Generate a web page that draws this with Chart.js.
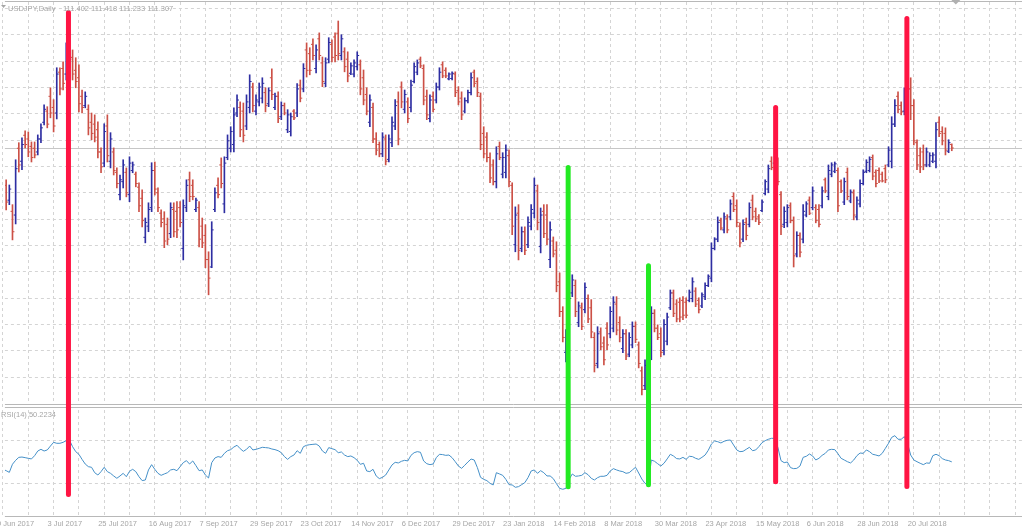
<!DOCTYPE html>
<html>
<head>
<meta charset="utf-8">
<title>USDJPY,Daily</title>
<script src="https://cdn.jsdelivr.net/npm/chart.js@4.4.1/dist/chart.umd.min.js"></script>
<style>
  html, body { margin: 0; padding: 0; background: #ffffff; }
  #wrap { position: relative; width: 1024px; height: 532px; overflow: hidden; }
</style>
</head>
<body>
<div id="wrap"><canvas id="grafico" width="1024" height="532"></canvas></div>
<script>
// Daily bars, 9 Jun 2017 -> 8 Aug 2018 (one entry per trading day)
const openPrices = [
  110.50, 110.30, 109.90, 109.60, 109.50, 111.30, 110.95, 111.65, 111.55, 111.35,
  111.30, 111.20, 111.55, 112.00, 112.30, 112.70, 112.40, 112.25, 113.35, 113.45,
  113.30, 114.00, 113.75, 113.40, 113.20, 112.70, 112.45, 112.35, 112.00, 111.95,
  111.80, 111.20, 110.90, 111.90, 110.95, 111.20, 110.65, 110.05, 110.40, 110.65,
  110.05, 110.70, 110.60, 110.25, 109.95, 108.90, 109.20, 109.70, 110.70, 110.10,
  109.55, 109.40, 109.25, 109.00, 109.65, 109.60, 109.70, 108.60, 109.70, 110.45,
  110.30, 109.65, 109.70, 109.20, 108.95, 108.30, 108.10, 109.65, 110.30, 110.85,
  109.80, 111.05, 111.30, 111.40, 112.25, 112.40, 112.30, 111.90, 112.40, 112.95,
  112.30, 112.55, 112.65, 112.80, 112.50, 113.20, 112.40, 112.70, 112.15, 112.45,
  111.80, 111.75, 112.30, 112.25, 113.00, 112.90, 113.95, 113.85, 114.10, 113.45,
  114.25, 113.60, 113.05, 113.70, 114.10, 114.30, 114.40, 113.80, 113.90, 113.70,
  113.32, 113.30, 113.50, 113.55, 113.20, 112.75, 112.00, 112.40, 111.55, 111.40,
  111.15, 111.55, 111.00, 111.45, 111.90, 112.55, 112.95, 112.35, 112.55, 112.40,
  113.10, 113.35, 113.70, 113.45, 112.70, 112.10, 112.70, 112.60, 112.95, 113.55,
  113.40, 113.17, 113.18, 113.30, 112.85, 112.65, 112.30, 112.58, 112.80, 113.35,
  113.10, 112.70, 111.70, 111.60, 111.05, 110.85, 110.40, 111.35, 110.60, 110.65,
  111.10, 110.30, 108.70, 109.55, 108.60, 109.05, 108.70, 109.20, 109.55, 110.15,
  108.65, 109.60, 109.50, 108.30, 108.80, 108.55, 107.70, 106.90, 105.80, 106.70,
  107.40, 107.60, 106.60, 107.00, 106.95, 107.25, 107.00, 106.20, 105.50, 106.35,
  106.05, 106.45, 106.30, 106.45, 107.10, 106.60, 105.90, 106.30, 105.75, 106.00,
  106.50, 106.00, 105.30, 104.90, 105.40, 105.90, 106.85, 106.45, 106.30, 105.85,
  106.10, 107.00, 107.40, 107.10, 107.15, 107.20, 107.15, 107.20, 107.25, 107.45,
  107.20, 107.05, 107.30, 107.60, 107.80, 108.60, 108.85, 109.35, 109.10, 109.40,
  109.45, 110.00, 109.75, 109.20, 108.85, 109.30, 109.25, 109.90, 109.60, 109.45,
  109.62, 110.08, 110.20, 110.95, 110.90, 111.00, 110.05, 109.25, 109.30, 109.75,
  109.35, 108.45, 108.95, 108.85, 109.50, 109.90, 109.70, 109.70, 109.65, 109.75,
  110.45, 110.00, 110.60, 110.68, 110.70, 110.40, 109.85, 110.65, 109.88, 110.10,
  109.45, 109.80, 110.35, 110.68, 110.70, 111.05, 110.65, 110.70, 110.60, 110.75,
  110.85, 110.95, 111.95, 112.70, 112.45, 112.30, 112.45, 112.90, 112.45, 111.45,
  111.10, 111.20, 110.85, 110.85, 110.95, 110.95, 112.00, 111.75, 111.70, 111.22,
  111.402
];
const highPrices = [
  110.72, 110.45, 110.31, 109.78, 110.99, 111.45, 111.58, 111.77, 111.74, 111.47,
  111.47, 111.66, 111.96, 112.47, 112.42, 112.93, 112.61, 113.47, 113.47, 113.63,
  114.14, 114.49, 113.95, 113.74, 113.55, 112.87, 112.82, 112.47, 112.25, 112.20,
  112.01, 111.31, 111.96, 112.20, 111.72, 111.31, 110.77, 110.58, 110.99, 110.77,
  111.07, 110.93, 110.66, 110.37, 110.18, 109.42, 109.83, 110.91, 110.93, 110.23,
  109.64, 109.59, 109.42, 109.83, 109.83, 109.86, 109.86, 109.91, 110.45, 110.66,
  110.45, 109.96, 109.86, 109.42, 109.24, 108.51, 109.32, 110.23, 110.50, 111.04,
  111.07, 111.66, 111.88, 112.39, 112.74, 112.55, 112.52, 112.74, 113.28, 113.06,
  112.74, 113.06, 113.20, 112.93, 112.93, 113.44, 112.79, 112.82, 112.55, 112.52,
  112.34, 112.25, 112.34, 113.04, 113.14, 113.58, 114.14, 114.01, 114.25, 114.09,
  114.41, 113.76, 113.74, 114.28, 114.22, 114.41, 114.73, 114.36, 114.01, 113.90,
  113.60, 113.68, 113.90, 113.68, 113.41, 112.93, 112.74, 112.52, 111.72, 111.47,
  111.72, 111.66, 111.66, 112.15, 112.61, 112.82, 113.09, 112.87, 112.66, 113.14,
  113.60, 113.68, 113.76, 113.55, 112.87, 112.74, 112.82, 113.06, 113.47, 113.63,
  113.47, 113.33, 113.36, 113.36, 112.96, 112.82, 112.66, 112.87, 113.33, 113.41,
  113.20, 112.79, 111.88, 111.72, 111.18, 110.99, 111.34, 111.47, 111.18, 111.39,
  111.26, 110.37, 109.72, 109.78, 109.18, 109.18, 109.45, 109.78, 110.50, 110.31,
  109.69, 109.78, 109.78, 109.32, 108.91, 108.78, 107.94, 107.03, 106.41, 107.40,
  107.89, 107.75, 107.16, 107.13, 107.67, 107.35, 107.22, 106.33, 106.49, 106.46,
  106.22, 106.60, 107.03, 107.30, 107.30, 106.76, 106.41, 106.41, 106.33, 106.62,
  106.62, 106.08, 105.41, 105.60, 106.14, 107.03, 106.95, 106.54, 106.46, 106.68,
  106.86, 107.48, 107.48, 107.22, 107.27, 107.30, 107.27, 107.48, 107.81, 107.54,
  107.27, 107.40, 107.67, 107.89, 108.75, 108.89, 109.45, 109.42, 109.56, 109.51,
  109.91, 110.10, 109.91, 109.29, 109.37, 109.42, 109.83, 110.04, 109.69, 109.51,
  109.91, 110.45, 110.85, 111.07, 111.45, 111.04, 110.13, 109.72, 109.78, 109.83,
  109.45, 109.05, 109.02, 109.78, 109.86, 109.99, 110.26, 109.78, 109.78, 110.26,
  110.50, 110.85, 110.91, 110.93, 110.77, 110.45, 110.50, 110.77, 110.18, 110.18,
  109.99, 110.45, 110.72, 110.99, 111.07, 111.12, 110.72, 110.77, 110.66, 110.85,
  111.34, 112.15, 112.61, 112.82, 112.55, 112.93, 113.01, 113.20, 112.61, 111.53,
  111.31, 111.39, 111.31, 111.18, 111.18, 111.99, 112.15, 111.88, 111.85, 111.53,
  111.418
];
const lowPrices = [
  109.91, 109.64, 109.78, 108.83, 109.26, 110.66, 110.72, 111.31, 111.07, 110.93,
  111.04, 111.12, 111.45, 111.93, 111.85, 112.12, 111.74, 112.09, 112.74, 112.87,
  113.14, 113.47, 113.14, 112.93, 112.28, 112.25, 112.39, 111.66, 111.53, 111.47,
  111.04, 110.64, 110.80, 110.93, 110.77, 110.58, 110.23, 109.91, 110.23, 109.99,
  109.86, 110.64, 110.26, 109.59, 109.18, 108.75, 109.05, 109.59, 110.04, 109.59,
  109.18, 108.62, 108.70, 108.89, 108.91, 108.89, 109.18, 108.29, 109.59, 109.86,
  109.91, 109.59, 108.64, 108.62, 108.08, 107.35, 108.08, 109.59, 109.96, 110.23,
  109.56, 110.99, 111.20, 111.20, 112.15, 111.61, 111.47, 111.80, 112.25, 112.28,
  112.20, 112.44, 112.52, 112.28, 112.42, 112.61, 112.34, 111.99, 112.07, 112.20,
  111.72, 111.63, 112.07, 112.15, 112.55, 112.82, 113.22, 113.28, 113.68, 113.33,
  113.68, 112.96, 112.96, 113.60, 113.63, 113.63, 113.68, 113.68, 113.36, 113.09,
  113.28, 113.22, 113.41, 112.74, 112.47, 112.20, 111.88, 111.45, 111.12, 111.07,
  111.07, 110.85, 110.93, 111.34, 111.80, 111.39, 112.39, 112.25, 111.99, 112.28,
  113.06, 113.28, 113.47, 112.47, 112.07, 112.01, 112.28, 112.52, 112.87, 113.20,
  113.20, 113.14, 113.14, 112.69, 112.47, 112.07, 112.25, 112.52, 112.74, 112.96,
  112.69, 111.26, 111.04, 110.93, 110.37, 110.31, 110.23, 110.99, 110.50, 110.50,
  110.26, 108.97, 108.51, 108.29, 108.51, 108.43, 108.62, 109.10, 109.42, 109.10,
  108.48, 108.89, 108.70, 108.08, 108.37, 107.43, 106.76, 106.08, 105.54, 106.60,
  107.30, 106.76, 106.49, 106.41, 106.86, 106.60, 106.19, 105.27, 105.38, 105.87,
  105.46, 105.87, 106.19, 106.35, 106.27, 106.08, 105.79, 105.60, 105.68, 105.92,
  106.06, 105.38, 104.65, 104.79, 105.27, 105.60, 106.35, 106.14, 105.68, 105.73,
  106.00, 106.95, 106.76, 106.62, 106.62, 106.68, 106.73, 107.16, 107.16, 107.03,
  106.86, 107.00, 107.22, 107.57, 107.70, 108.56, 108.78, 109.10, 109.02, 109.02,
  109.37, 109.59, 109.18, 108.64, 108.78, 108.83, 109.18, 109.37, 109.32, 109.24,
  109.59, 110.04, 110.10, 110.72, 110.85, 110.31, 108.97, 109.16, 109.18, 109.29,
  108.10, 108.37, 108.37, 108.75, 109.45, 109.51, 109.64, 109.29, 109.18, 109.69,
  110.10, 109.91, 110.53, 110.64, 109.59, 110.10, 109.78, 109.91, 109.83, 109.37,
  109.37, 109.72, 110.31, 110.64, 110.66, 110.45, 110.26, 110.37, 110.39, 110.37,
  110.80, 110.77, 111.88, 112.25, 112.20, 112.20, 112.34, 112.07, 111.39, 110.72,
  110.64, 110.72, 110.80, 110.80, 110.91, 110.77, 111.61, 111.39, 111.12, 111.18,
  111.233
];
const closePrices = [
  110.10, 109.85, 110.20, 109.05, 110.75, 110.85, 111.40, 111.40, 111.20, 111.05,
  111.12, 111.55, 111.85, 112.35, 111.95, 112.25, 111.90, 113.30, 112.90, 113.05,
  113.95, 113.70, 113.30, 113.10, 112.50, 112.40, 112.70, 111.85, 111.70, 111.60,
  111.20, 110.80, 111.75, 111.10, 111.55, 110.70, 110.35, 110.45, 110.85, 110.10,
  110.90, 110.85, 110.35, 109.75, 109.35, 109.30, 109.65, 110.70, 110.20, 109.70,
  109.30, 108.80, 108.85, 109.70, 109.05, 109.10, 109.30, 109.75, 110.30, 110.00,
  110.00, 109.90, 108.85, 108.75, 108.30, 107.80, 109.10, 110.10, 110.05, 110.35,
  110.90, 111.50, 111.75, 112.20, 112.60, 111.80, 111.65, 112.55, 113.10, 112.45,
  112.60, 112.95, 113.05, 112.45, 112.85, 112.75, 112.70, 112.10, 112.45, 112.25,
  112.20, 112.15, 112.12, 112.90, 112.65, 113.45, 113.40, 113.40, 113.80, 113.95,
  113.80, 113.10, 113.60, 114.15, 113.75, 113.80, 113.85, 114.25, 113.50, 113.25,
  113.52, 113.60, 113.80, 112.90, 112.60, 112.30, 112.60, 111.55, 111.25, 111.15,
  111.60, 110.95, 111.55, 112.00, 112.45, 111.55, 112.55, 112.75, 112.10, 113.00,
  113.50, 113.60, 113.52, 112.60, 112.20, 112.60, 112.35, 112.95, 113.35, 113.25,
  113.25, 113.30, 113.32, 112.80, 112.55, 112.20, 112.58, 112.80, 113.20, 113.05,
  112.80, 111.40, 111.15, 111.05, 110.50, 110.40, 111.15, 111.05, 111.05, 111.25,
  110.40, 109.20, 109.50, 108.55, 109.05, 108.55, 109.30, 109.65, 110.30, 109.30,
  109.50, 109.00, 108.85, 109.10, 108.45, 107.60, 106.90, 106.20, 106.25, 107.25,
  107.75, 106.90, 107.05, 106.50, 107.55, 106.70, 106.35, 105.45, 106.30, 105.95,
  105.60, 106.00, 106.90, 107.15, 106.40, 106.20, 106.30, 105.70, 106.20, 106.50,
  106.15, 105.50, 104.80, 105.45, 105.95, 106.85, 106.45, 106.20, 105.80, 106.55,
  106.75, 107.40, 106.85, 106.70, 106.75, 106.80, 106.80, 107.42, 107.70, 107.10,
  106.95, 107.35, 107.60, 107.85, 108.60, 108.85, 109.30, 109.15, 109.45, 109.10,
  109.80, 109.65, 109.30, 108.75, 109.25, 108.95, 109.70, 109.45, 109.40, 109.30,
  109.85, 110.40, 110.75, 110.78, 111.20, 110.40, 109.20, 109.60, 109.70, 109.35,
  108.40, 108.95, 108.50, 109.60, 109.80, 109.55, 110.15, 109.35, 109.25, 110.15,
  110.15, 110.70, 110.85, 110.88, 109.75, 110.15, 110.40, 110.00, 110.12, 109.50,
  109.90, 110.35, 110.65, 110.92, 111.00, 110.55, 110.35, 110.42, 110.42, 110.45,
  111.25, 111.95, 112.45, 112.35, 112.28, 112.80, 112.90, 112.45, 111.50, 110.85,
  110.80, 110.85, 111.20, 111.10, 111.12, 111.80, 111.70, 111.50, 111.25, 111.45,
  111.307
];

// RSI(14), one value per bar
const rsiValues = [
  43.2, 41.9, 40.3, 48.0, 51.7, 54.5, 54.8, 54.2, 53.6, 53.0,
  56.1, 60.5, 62.1, 60.5, 61.5, 65.2, 68.7, 67.8, 67.8, 68.7,
  70.3, 70.9, 64.6, 59.9, 57.4, 52.6, 48.2, 45.7, 45.1, 40.0,
  37.8, 41.0, 45.1, 41.0, 39.4, 36.9, 34.7, 36.9, 39.4, 36.2,
  41.3, 43.2, 41.0, 36.2, 32.5, 33.1, 42.6, 47.6, 43.2, 39.4,
  37.5, 38.8, 40.0, 42.6, 43.2, 41.9, 45.7, 49.5, 51.4, 48.2,
  51.1, 46.7, 41.9, 42.6, 37.8, 35.0, 49.5, 53.9, 55.2, 54.5,
  58.3, 60.8, 61.8, 64.3, 65.9, 62.7, 60.2, 62.1, 65.2, 61.5,
  62.1, 63.0, 64.0, 63.7, 63.4, 62.4, 61.8, 60.8, 58.9, 55.2,
  52.6, 55.2, 56.7, 60.8, 58.3, 64.6, 65.9, 66.5, 66.8, 67.1,
  65.2, 60.5, 58.3, 63.7, 62.7, 61.8, 58.9, 59.6, 56.7, 55.2,
  55.8, 54.2, 51.7, 47.9, 48.9, 41.6, 41.0, 43.2, 36.9, 34.4,
  35.6, 37.8, 42.6, 47.3, 49.8, 49.2, 50.8, 51.7, 51.1, 56.4,
  58.9, 59.9, 59.3, 51.1, 48.5, 47.6, 48.2, 54.2, 57.4, 57.1,
  56.4, 56.7, 54.2, 50.4, 46.3, 44.1, 47.0, 50.1, 52.9, 52.0,
  44.8, 35.6, 33.7, 32.5, 29.9, 28.4, 40.0, 38.8, 37.5, 33.7,
  28.7, 28.4, 26.2, 26.8, 28.7, 30.6, 35.3, 41.6, 42.6, 39.4,
  41.9, 40.0, 36.9, 36.9, 34.4, 29.6, 25.2, 24.3, 25.2, 33.7,
  38.8, 36.6, 36.9, 37.5, 40.0, 38.1, 34.7, 33.1, 35.3, 36.6,
  36.6, 37.5, 41.6, 43.8, 42.6, 41.6, 41.0, 39.4, 40.0, 42.6,
  45.1, 39.7, 34.0, 29.9, 28.4, 52.0, 50.8, 48.5, 46.3, 48.9,
  53.0, 57.4, 55.8, 53.3, 53.0, 54.5, 52.6, 55.5, 55.2, 53.6,
  52.6, 54.5, 56.7, 61.2, 67.1, 70.0, 69.3, 68.1, 69.7, 70.6,
  70.9, 66.2, 61.5, 59.9, 60.2, 62.1, 64.0, 60.8, 61.5, 64.6,
  68.4, 70.3, 71.6, 72.5, 72.5, 64.0, 51.4, 49.5, 50.1, 44.8,
  43.8, 44.1, 46.3, 54.5, 55.5, 57.7, 55.8, 52.0, 53.6, 56.4,
  58.3, 61.5, 62.1, 61.8, 58.0, 53.6, 52.0, 50.4, 49.2, 52.0,
  56.1, 58.6, 58.3, 61.5, 59.9, 57.4, 56.7, 55.8, 58.3, 63.0,
  67.8, 73.4, 75.0, 71.6, 71.6, 74.1, 67.8, 56.7, 52.0, 50.4,
  48.9, 47.6, 49.2, 48.9, 56.1, 57.4, 56.1, 53.3, 52.0, 51.4,
  50.2234
];

// Date labels, one every 16 bars starting at bar 0
const tickLabels = [
  '9 Jun 2017', '3 Jul 2017', '25 Jul 2017', '16 Aug 2017', '7 Sep 2017',
  '29 Sep 2017', '23 Oct 2017', '14 Nov 2017', '6 Dec 2017', '29 Dec 2017',
  '23 Jan 2018', '14 Feb 2018', '8 Mar 2018', '30 Mar 2018', '23 Apr 2018',
  '15 May 2018', '6 Jun 2018', '28 Jun 2018', '20 Jul 2018'
];

// Signal lines: bar position, top (price), bottom (RSI), kind
const signalBars = [20.7, 178.7, 204.1, 244.3, 285.8];
const signalTops = [114.96, 110.78, 108.13, 112.40, 114.80];
const signalBottoms = [19.4, 26.7, 28.6, 31.4, 27.0];
const signalKinds = ['sell', 'buy', 'buy', 'sell', 'sell'];

// --- look ---
const UP_COLOR = '#2e2ea2';
const DOWN_COLOR = '#cc5046';
const RSI_COLOR = '#4590c8';
const GRID_COLOR = '#d4d4d4';
const FRAME_COLOR = '#b8b8b8';
const TEXT_COLOR = '#a6a6a6';
const SIGNAL_COLORS = { sell: '#ff1443', buy: '#22ea22' };
const FONT = '"Liberation Sans", Arial, sans-serif';
const PRICE_GRID_TOP = 115.063;
const PRICE_GRID_STEP = 0.7097;

const lastBar = closePrices.length - 1;
const barColors = closePrices.map((c, i) => (c >= openPrices[i] ? UP_COLOR : DOWN_COLOR));

// Extra drawing: frame lines, bid line, signal lines and captions
const painelPlugin = {
    id: 'painel',
    beforeDatasetsDraw(chart) {
        const { ctx, chartArea } = chart;
        const yPrice = chart.scales.y;
        ctx.save();
        // gap between price window and RSI window
        const sep = Math.round(yPrice.bottom);
        ctx.fillStyle = '#ffffff';
        ctx.fillRect(chartArea.left, sep - 1, chartArea.right - chartArea.left, 3);
        ctx.lineWidth = 1;
        ctx.strokeStyle = FRAME_COLOR;
        ctx.beginPath();
        [Math.round(chartArea.top) - 0.5, sep - 0.5, sep + 2.5, Math.round(chartArea.bottom) + 0.5].forEach(y => {
            ctx.moveTo(chartArea.left, y);
            ctx.lineTo(chartArea.right, y);
        });
        ctx.stroke();
        // bid line at the last close
        const yBid = Math.round(yPrice.getPixelForValue(closePrices[lastBar])) + 0.5;
        ctx.strokeStyle = '#c6c6c6';
        ctx.beginPath();
        ctx.moveTo(chartArea.left, yBid);
        ctx.lineTo(chartArea.right, yBid);
        ctx.stroke();
        ctx.restore();
    },
    afterDatasetsDraw(chart) {
        const { ctx } = chart;
        const { x, y, rsi } = chart.scales;
        ctx.save();
        ctx.lineWidth = 5;
        ctx.lineCap = 'round';
        signalBars.forEach((bar, k) => {
            const px = x.getPixelForValue(bar);
            ctx.strokeStyle = SIGNAL_COLORS[signalKinds[k]];
            ctx.beginPath();
            ctx.moveTo(px, y.getPixelForValue(signalTops[k]));
            ctx.lineTo(px, rsi.getPixelForValue(signalBottoms[k]));
            ctx.stroke();
        });
        ctx.restore();
    },
    afterDraw(chart) {
        const { ctx } = chart;
        const { x, rsi } = chart.scales;
        ctx.save();
        ctx.fillStyle = TEXT_COLOR;
        // small menu arrow + symbol caption
        ctx.beginPath();
        ctx.moveTo(1, 5); ctx.lineTo(6, 5); ctx.lineTo(3.5, 8); ctx.closePath();
        ctx.fill();
        ctx.font = '7.5px ' + FONT;
        ctx.textBaseline = 'alphabetic';
        ctx.fillText('USDJPY,Daily', 8, 10.5);
        const ohlc = [openPrices, highPrices, lowPrices, closePrices].map(a => a[lastBar].toFixed(3)).join(' ');
        ctx.fillText(ohlc, 63, 10.5);
        // RSI caption
        ctx.fillText('RSI(14) ' + rsiValues[lastBar].toFixed(4), 1, rsi.top + 12);
        // chart shift marker
        const sx = x.getPixelForValue(lastBar) + 4;
        ctx.fillStyle = '#b0b0b0';
        ctx.beginPath();
        ctx.moveTo(sx - 4.5, 0); ctx.lineTo(sx + 4.5, 0); ctx.lineTo(sx, 4.5); ctx.closePath();
        ctx.fill();
        ctx.restore();
    }
};

function initChart() {
    Chart.defaults.font.family = FONT;
    const ctx = document.getElementById('grafico').getContext('2d');
    window.chartUsdJpy = new Chart(ctx, {
        type: 'bar',
        data: {
            datasets: [
                {
                    // high-low range of each bar
                    type: 'bar',
                    data: highPrices.map((h, i) => ({ x: i, y: [lowPrices[i], h] })),
                    backgroundColor: barColors,
                    borderWidth: 0,
                    barThickness: 1,
                    grouped: false,
                    xAxisID: 'x', yAxisID: 'y'
                },
                {
                    // open ticks (left)
                    type: 'line', showLine: false,
                    data: openPrices.map((o, i) => ({ x: i - 0.3, y: o })),
                    pointStyle: 'line', pointRadius: 1, pointBorderWidth: 1,
                    pointBorderColor: barColors, pointHoverRadius: 0,
                    xAxisID: 'x', yAxisID: 'y'
                },
                {
                    // close ticks (right)
                    type: 'line', showLine: false,
                    data: closePrices.map((c, i) => ({ x: i + 0.3, y: c })),
                    pointStyle: 'line', pointRadius: 1, pointBorderWidth: 1,
                    pointBorderColor: barColors, pointHoverRadius: 0,
                    xAxisID: 'x', yAxisID: 'y'
                },
                {
                    type: 'line',
                    data: rsiValues.map((v, i) => ({ x: i, y: v })),
                    borderColor: RSI_COLOR, borderWidth: 1,
                    pointRadius: 0, tension: 0, fill: false,
                    xAxisID: 'x', yAxisID: 'rsi'
                }
            ]
        },
        options: {
            responsive: false,
            animation: false,
            devicePixelRatio: 1,
            layout: { padding: { top: 2, left: 0, right: 0, bottom: 0 } },
            plugins: { legend: { display: false }, tooltip: { enabled: false } },
            scales: {
                x: {
                    type: 'linear', position: 'bottom',
                    min: 0.6, max: 322.2, offset: false,
                    afterBuildTicks: (scale) => {
                        const ticks = [];
                        for (let v = 0; v <= scale.max; v += 8) ticks.push({ value: v });
                        scale.ticks = ticks;
                    },
                    afterFit: (scale) => { scale.height = 16; },
                    grid: { color: GRID_COLOR, drawTicks: false, offset: false },
                    border: { display: false, dash: [3, 3] },
                    ticks: {
                        autoSkip: false, maxRotation: 0, minRotation: 0,
                        align: 'start', padding: 3, labelOffset: -6,
                        color: TEXT_COLOR, font: { size: 7.5 },
                        callback: (v) => (v % 16 === 0 && tickLabels[v / 16]) || ''
                    }
                },
                y: {
                    type: 'linear', position: 'right',
                    stack: 'janelas', stackWeight: 403,
                    min: 104.38, max: 115.242,
                    afterBuildTicks: (scale) => {
                        const ticks = [];
                        for (let v = PRICE_GRID_TOP; v > scale.min + 0.2; v -= PRICE_GRID_STEP) ticks.push({ value: v });
                        scale.ticks = ticks;
                    },
                    afterFit: (scale) => { scale.width = 0; },
                    grid: { color: GRID_COLOR, drawTicks: false },
                    border: { display: false, dash: [3, 3] },
                    ticks: { display: false }
                },
                rsi: {
                    type: 'linear', position: 'right',
                    stack: 'janelas', stackWeight: 111,
                    min: -0.95, max: 104.0,
                    afterBuildTicks: (scale) => { scale.ticks = [{ value: 30 }, { value: 70 }]; },
                    afterFit: (scale) => { scale.width = 0; },
                    grid: { color: GRID_COLOR, drawTicks: false },
                    border: { display: false, dash: [3, 3] },
                    ticks: { display: false }
                }
            }
        },
        plugins: [painelPlugin]
    });
}

window.onload = initChart;
</script>
</body>
</html>
